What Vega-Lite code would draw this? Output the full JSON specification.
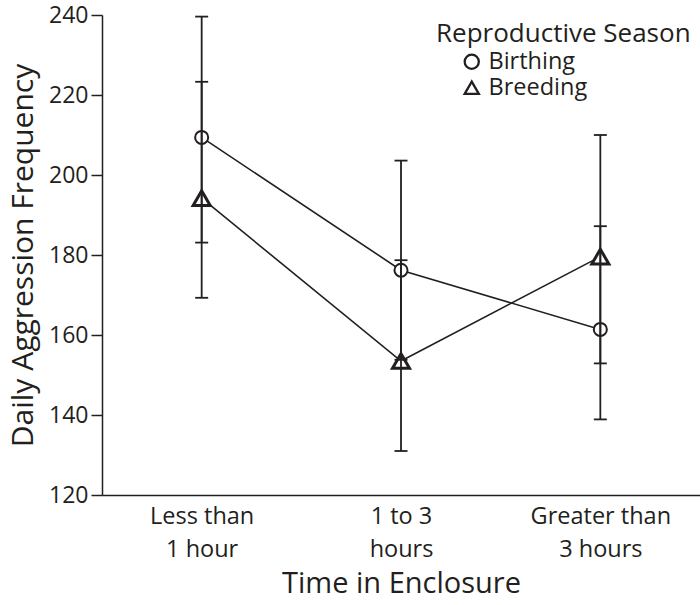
{
  "$schema": "https://vega.github.io/schema/vega-lite/v6.json",
  "width": 598,
  "height": 480,
  "autosize": {"type": "none"},
  "padding": {"left": 102, "top": 15, "right": 0, "bottom": 110},
  "background": "white",
  "config": {
    "view": {"stroke": null},
    "font": "Open Sans",
    "axis": {"labelColor": "#231f20", "titleColor": "#231f20", "domainColor": "#231f20", "tickColor": "#231f20", "domainWidth": 1.5, "tickWidth": 1.5, "grid": false, "titleFontWeight": "normal"},
    "legend": {"labelColor": "#231f20", "titleColor": "#231f20", "titleFontWeight": "normal"}
  },
  "data": {
    "values": [
      {"time": "Less than 1 hour", "season": "Birthing", "mean": 209.4, "lo": 183.1, "hi": 239.6},
      {"time": "Less than 1 hour", "season": "Breeding", "mean": 194.2, "lo": 169.3, "hi": 223.3},
      {"time": "1 to 3 hours", "season": "Birthing", "mean": 176.2, "lo": 153.8, "hi": 203.6},
      {"time": "1 to 3 hours", "season": "Breeding", "mean": 153.5, "lo": 131.0, "hi": 178.7},
      {"time": "Greater than 3 hours", "season": "Birthing", "mean": 161.4, "lo": 138.9, "hi": 187.2},
      {"time": "Greater than 3 hours", "season": "Breeding", "mean": 179.6, "lo": 152.9, "hi": 210.0}
    ]
  },
  "encoding": {
    "x": {
      "field": "time",
      "type": "nominal",
      "sort": ["Less than 1 hour", "1 to 3 hours", "Greater than 3 hours"],
      "scale": {"type": "point", "padding": 0.5},
      "axis": {
        "title": "Time in Enclosure",
        "titleFontSize": 29,
        "titleBaseline": "alphabetic",
        "titleY": 97,
        "labelAngle": 0,
        "labelFontSize": 23.5,
        "labelLineHeight": 33,
        "labelBaseline": "top",
        "labelPadding": 9,
        "ticks": false,
        "tickSize": 0,
        "labelExpr": "datum.label == 'Less than 1 hour' ? ['Less than', '1 hour'] : datum.label == '1 to 3 hours' ? ['1 to 3', 'hours'] : ['Greater than', '3 hours']"
      }
    }
  },
  "layer": [
    {
      "mark": {"type": "line", "color": "#231f20", "strokeWidth": 1.6},
      "encoding": {
        "y": {"field": "mean", "type": "quantitative", "scale": {"domain": [120, 240], "nice": false, "zero": false},
          "axis": {
            "title": "Daily Aggression Frequency",
            "titleFontSize": 30,
            "titleBaseline": "alphabetic",
            "titleX": -70,
            "titleY": 240,
            "values": [120, 140, 160, 180, 200, 220, 240],
            "tickSize": 11,
            "labelFontSize": 23,
            "labelPadding": 3
          }
        },
        "detail": {"field": "season"}
      }
    },
    {
      "mark": {"type": "point", "filled": false, "fill": "white", "stroke": "#231f20", "opacity": 1, "size": 170},
      "encoding": {
        "y": {"field": "mean", "type": "quantitative"},
        "shape": {
          "field": "season",
          "type": "nominal",
          "scale": {"domain": ["Birthing", "Breeding"], "range": ["circle", "triangle-up"]},
          "legend": {
            "title": "Reproductive Season",
            "orient": "none",
            "legendX": 334,
            "legendY": 6,
            "padding": 0,
            "titleFontSize": 26,
            "titleLimit": 400,
            "titlePadding": 3,
            "labelFontSize": 23.5,
            "labelOffset": 5,
            "rowPadding": 1,
            "symbolOffset": 24,
            "symbolSize": 200,
            "symbolStrokeWidth": 2.3,
            "encode": {
              "symbols": {"update": {
                "fill": {"value": "white"},
                "stroke": {"value": "#231f20"},
                "opacity": {"value": 1},
                "fillOpacity": {"value": 1},
                "strokeOpacity": {"value": 1}
              }}
            }
          }
        }
      }
    },
    {
      "transform": [{"filter": "datum.season === 'Breeding'"}],
      "mark": {"type": "point", "shape": "triangle-up", "filled": false, "fill": "white", "stroke": "#231f20", "opacity": 1, "size": 290, "strokeWidth": 3},
      "encoding": {
        "y": {"field": "mean", "type": "quantitative"}
      }
    },
    {
      "mark": {"type": "rule", "color": "#231f20", "strokeWidth": 1.8},
      "encoding": {
        "y": {"field": "lo", "type": "quantitative"},
        "y2": {"field": "hi"}
      }
    },
    {
      "mark": {"type": "tick", "color": "#231f20", "size": 13, "thickness": 1.8, "opacity": 1},
      "encoding": {"y": {"field": "lo", "type": "quantitative"}}
    },
    {
      "mark": {"type": "tick", "color": "#231f20", "size": 13, "thickness": 1.8, "opacity": 1},
      "encoding": {"y": {"field": "hi", "type": "quantitative"}}
    }
  ]
}
